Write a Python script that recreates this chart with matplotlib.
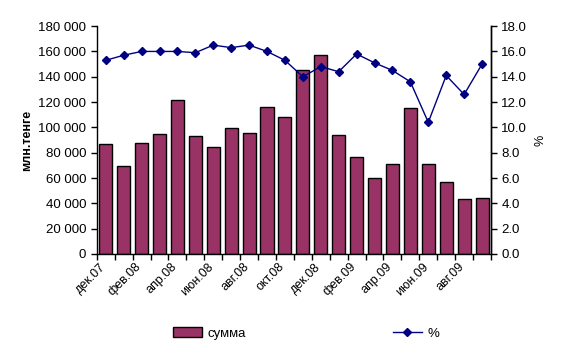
import numpy as np
import matplotlib.pyplot as plt
from matplotlib.ticker import FuncFormatter, MultipleLocator

plt.rcParams['font.family'] = ['Liberation Sans', 'DejaVu Sans']

months = ['дек.07', 'янв.08', 'фев.08', 'мар.08', 'апр.08', 'май.08', 'июн.08', 'июл.08',
          'авг.08', 'сен.08', 'окт.08', 'ноя.08', 'дек.08', 'янв.09', 'фев.09', 'мар.09',
          'апр.09', 'май.09', 'июн.09', 'июл.09', 'авг.09', 'сен.09']
summa = [86600, 69500, 87400, 94500, 121600, 92900, 84500, 99500, 95500, 115800, 107900,
         145000, 156900, 93700, 76600, 59800, 70800, 115000, 70800, 56600, 43200, 44000]
pct = [15.3, 15.7, 16.0, 16.0, 16.0, 15.9, 16.5, 16.3, 16.5, 16.0, 15.3,
       14.0, 14.8, 14.4, 15.8, 15.1, 14.5, 13.6, 10.4, 14.1, 12.6, 15.0]

x = np.arange(len(months))

fig = plt.figure(figsize=(5.66, 3.53), dpi=100)
ax = fig.add_axes([0.171, 0.2805, 0.6965, 0.6455])
ax2 = ax.twinx()

bars = ax.bar(x, summa, width=0.73, color='#993366', edgecolor='black', linewidth=1, zorder=2)
line, = ax2.plot(x, pct, color='#000080', marker='D', markersize=4.5, linewidth=1)

ax.set_xlim(-0.5, len(months) - 0.5)
ax.set_ylim(0, 180000)
ax2.set_ylim(0, 18)
ax.yaxis.set_major_locator(MultipleLocator(20000))
ax2.yaxis.set_major_locator(MultipleLocator(2))
ax.yaxis.set_major_formatter(FuncFormatter(lambda v, p: f'{int(v):,}'.replace(',', ' ')))
ax2.yaxis.set_major_formatter(FuncFormatter(lambda v, p: f'{v:.1f}'))

# ticks between categories, labels every second month
ax.set_xticks(np.arange(-0.5, len(months), 1.0))
ax.set_xticklabels([])
ax.set_xticks(x[::2] - 0.35, minor=True)
ax.set_xticklabels(months[::2], minor=True, rotation=45, ha='right', rotation_mode='anchor')
ax.tick_params(axis='x', which='minor', length=0, pad=5, labelsize=9)
ax.tick_params(axis='x', which='major', direction='out', length=4, width=1)
ax.tick_params(axis='y', direction='out', length=4, width=1, labelsize=9.5)
ax2.tick_params(axis='y', direction='out', length=4, width=1, labelsize=9.5)

for a in (ax, ax2):
    a.spines['top'].set_visible(False)
    for s in a.spines.values():
        s.set_linewidth(1)
ax2.spines['left'].set_visible(False)
ax2.spines['bottom'].set_visible(False)

ax.set_ylabel('млн.тенге', fontsize=9, fontweight='bold', labelpad=4)
ax2.set_ylabel('%', fontsize=9, labelpad=5)

fig.legend([bars], ['сумма'], loc='center', bbox_to_anchor=(0.37, 0.055), frameon=False,
           fontsize=9.5, handlelength=2.2, handleheight=0.7, handletextpad=0.4)
fig.legend([line], ['%'], loc='center', bbox_to_anchor=(0.735, 0.055), frameon=False,
           fontsize=9.5, handlelength=2.2, handletextpad=0.4)

fig.savefig('out.png', dpi=100)
